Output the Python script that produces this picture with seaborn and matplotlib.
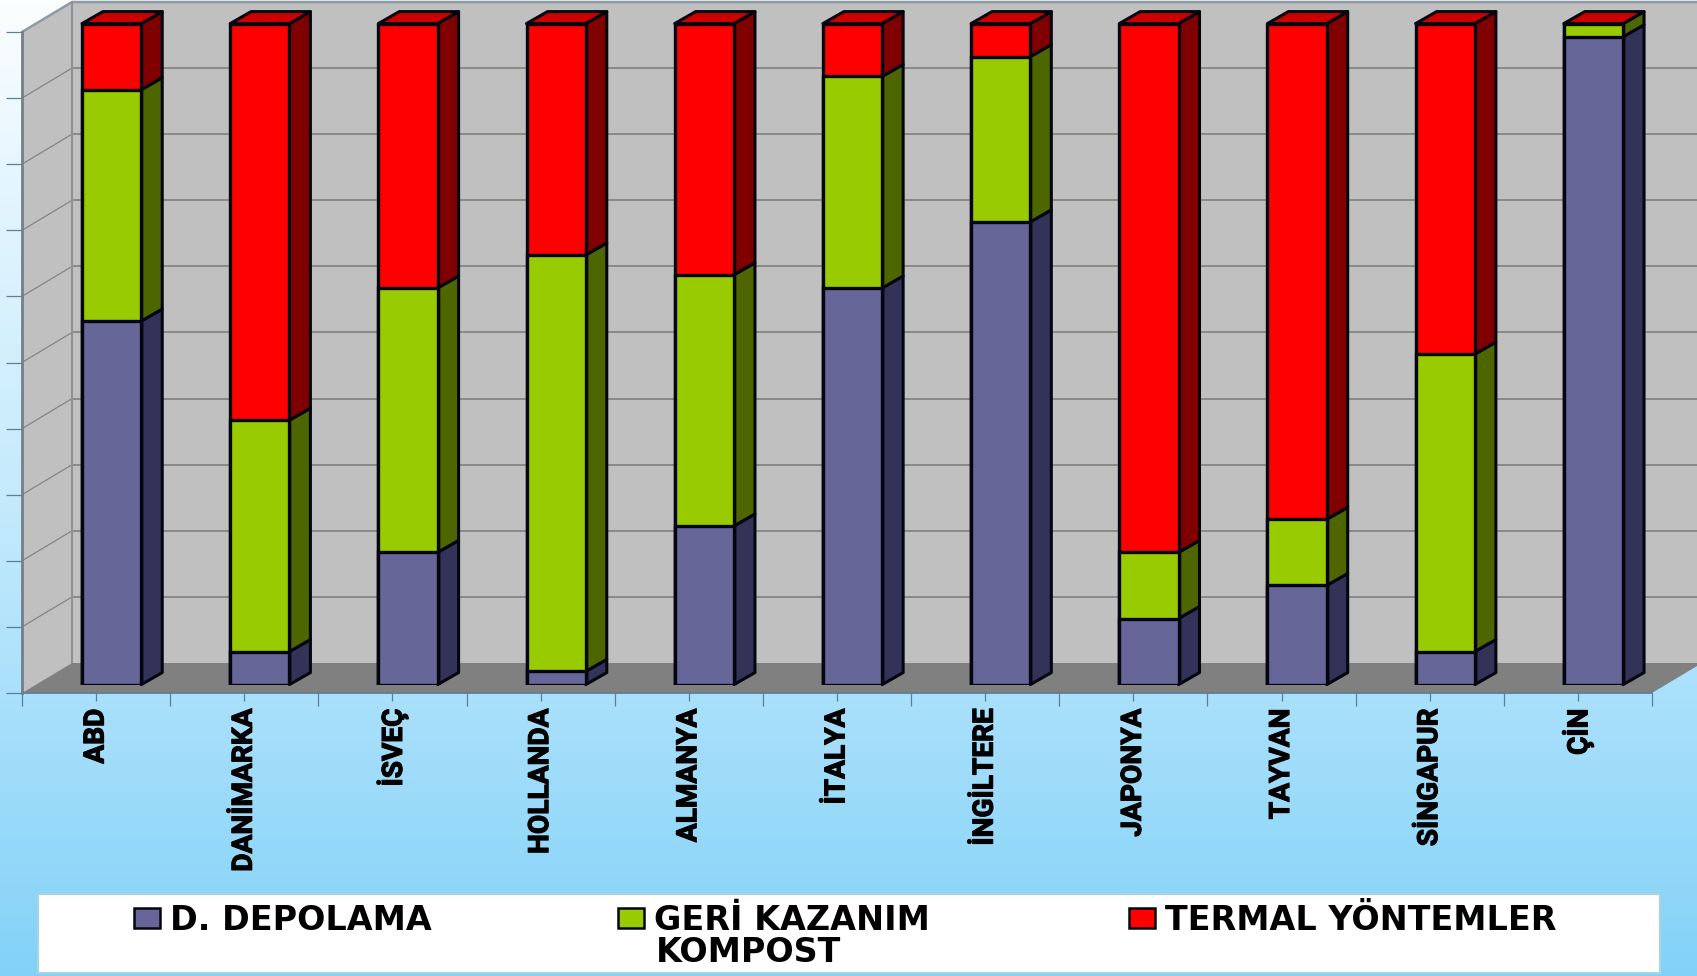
import numpy as np
import matplotlib
matplotlib.use("Agg")
import matplotlib.pyplot as plt
import matplotlib.patheffects as pe
from matplotlib.colors import LinearSegmentedColormap
from matplotlib.patches import Patch, Polygon, Rectangle
from matplotlib.ticker import FixedLocator, NullFormatter
import seaborn as sns

# Waste disposal shares per country, in percent
countries = ["ABD", "DANİMARKA", "İSVEÇ", "HOLLANDA", "ALMANYA", "İTALYA",
             "İNGİLTERE", "JAPONYA", "TAYVAN", "SİNGAPUR", "ÇİN"]
landfill = np.array([55, 5, 20, 2, 24, 60, 70, 10, 15, 5, 98], dtype=float)
recovery = np.array([35, 35, 40, 63, 38, 32, 25, 10, 10, 45, 2], dtype=float)
thermal = np.array([10, 60, 40, 35, 38, 8, 5, 80, 75, 50, 0], dtype=float)

series_names = ["D. DEPOLAMA", "GERİ KAZANIM ", "TERMAL YÖNTEMLER"]
extra_label = "KOMPOST"

front_colors = ["#666699", "#99CC00", "#FF0000"]
side_colors = ["#333359", "#4D6600", "#800000"]
top_color = "#CC0000"
edge_color = "#05050F"

W, H = 1697, 976
sns.set_theme(style="white")
plt.rcParams["font.family"] = ["Liberation Sans", "DejaVu Sans"]

fig = plt.figure(figsize=(W / 100, H / 100), dpi=100)

# Sky-coloured vertical gradient behind everything
bg = fig.add_axes([0, 0, 1, 1], zorder=0)
sky = LinearSegmentedColormap.from_list(
    "sky", [(0, "#FBFEFF"), (0.2, "#E3F5FE"), (0.5, "#C6EBFC"),
            (0.72, "#A9E0FB"), (1, "#82D2F8")])
bg.imshow(np.linspace(0, 1, 256)[:, None], cmap=sky, aspect="auto", extent=(0, 1, 0, 1))
bg.axis("off")

# Front plane of the value/category box
x0_px, x1_px, y0_px, y1_px = 22, 1652, 693, 32
pos = [x0_px / W, 1 - y0_px / H, (x1_px - x0_px) / W, (y0_px - y1_px) / H]
ax = fig.add_axes(pos, zorder=1)
ax.patch.set_visible(False)
ax.set_xlim(-0.5, 10.5)
ax.set_ylim(0, 100)
px_x = (x1_px - x0_px) / 11
px_y = (y0_px - y1_px) / 100

# Walls and floor, pushed back along the oblique depth direction
wall_dx, wall_dy = 50 / px_x, 30 / px_y
xl, xr = -0.5, 10.5
grid_col = "#858585"
ax.add_patch(Polygon([(xl, 0), (xl, 100), (xl + wall_dx, 100 + wall_dy), (xl + wall_dx, wall_dy)],
                     fc="#C0C0C0", ec="none", clip_on=False, zorder=1))
ax.add_patch(Polygon([(xl + wall_dx, wall_dy), (xl + wall_dx, 100 + wall_dy),
                      (xr + wall_dx, 100 + wall_dy), (xr + wall_dx, wall_dy)],
                     fc="#C0C0C0", ec="none", clip_on=False, zorder=1))
ax.add_patch(Polygon([(xl, 0), (xr, 0), (xr + wall_dx, wall_dy), (xl + wall_dx, wall_dy)],
                     fc="#808080", ec="none", clip_on=False, zorder=1.5))
for v in range(10, 100, 10):
    ax.plot([xl + wall_dx, xr + wall_dx], [v + wall_dy] * 2, color=grid_col, lw=1.3, clip_on=False, zorder=1.2)
    ax.plot([xl, xl + wall_dx], [v, v + wall_dy], color=grid_col, lw=0.9, clip_on=False, zorder=1.2)
ax.plot([xl, xl + wall_dx, xr + wall_dx], [100, 100 + wall_dy, 100 + wall_dy],
        color="#8E9AA3", lw=1.8, clip_on=False, zorder=1.3)
ax.plot([xl + wall_dx] * 2, [wall_dy, 100 + wall_dy], color="#8E9295", lw=1.5, clip_on=False, zorder=1.3)

# Axis furniture: long ticks between categories, short ticks at their centres
sns.despine(ax=ax, top=True, right=True)
for side, c, w in (("left", "#737F88", 2.0), ("bottom", "#5C7F95", 1.3)):
    ax.spines[side].set_color(c)
    ax.spines[side].set_linewidth(w)
    ax.spines[side].set_zorder(3)
ax.yaxis.set_major_locator(FixedLocator(range(0, 101, 10)))
ax.yaxis.set_major_formatter(NullFormatter())
ax.tick_params(axis="y", length=11.5, width=0.9, color="#5C7F95", left=True)
ax.set_xticks(range(11), countries)
ax.set_xticks(np.arange(-0.5, 11, 1), minor=True)
ax.tick_params(axis="x", which="major", length=5.8, width=0.9, color="#5C7F95", bottom=True,
               pad=5.6, labelrotation=90, labelsize=20.2, labelcolor="black")
ax.tick_params(axis="x", which="minor", length=9.4, width=0.9, color="#5C7F95", bottom=True)
for lab in ax.get_xticklabels():
    lab.set_family(["Roboto", "Liberation Sans", "DejaVu Sans"])
    lab.set_fontweight("bold")
    lab.set_va("top")
    lab.set_ha("center")
    # A thin outline gives the narrow caps their heavier weight
    lab.set_path_effects([pe.withStroke(linewidth=0.8, foreground="black")])

# Bars live in a twin plane nudged towards the back of the box
off_x, off_y = 15.5, 8.4
ax_bars = fig.add_axes([(x0_px + off_x) / W, 1 - (y0_px - off_y) / H, pos[2], pos[3]], zorder=2)
ax_bars.patch.set_visible(False)
bar_width = 0.4
depth_dx, depth_dy = 21 / px_x, 12 / px_y

segments = [landfill, recovery, thermal]
tops = np.cumsum(segments, axis=0)
bottoms = tops - np.array(segments)

# Tallest cumulative level first so each lower layer paints over it
for level in (2, 1, 0):
    sns.barplot(x=countries, y=tops[level], color=front_colors[level], saturation=1,
                width=bar_width, edgecolor=edge_color, linewidth=2.4, ax=ax_bars,
                errorbar=None, zorder=3)

# Oblique side and top faces of every stacked segment
for i in range(len(countries)):
    right = i + bar_width / 2
    left = i - bar_width / 2
    for level in range(3):
        lo, hi = bottoms[level, i], tops[level, i]
        if hi <= lo:
            continue
        ax_bars.add_patch(Polygon([(right, lo), (right, hi), (right + depth_dx, hi + depth_dy),
                                   (right + depth_dx, lo + depth_dy)],
                                  fc=side_colors[level], ec=edge_color, lw=2.2,
                                  joinstyle="round", clip_on=False, zorder=2))
    h = tops[2, i]
    ax_bars.add_patch(Polygon([(left, h), (right, h), (right + depth_dx, h + depth_dy),
                               (left + depth_dx, h + depth_dy)],
                              fc=top_color, ec=edge_color, lw=2.2,
                              joinstyle="round", clip_on=False, zorder=2))
ax_bars.set_xlim(-0.5, 10.5)
ax_bars.set_ylim(0, 100)
ax_bars.axis("off")

# White legend panel along the bottom of the figure
fig.add_artist(Rectangle((38 / W, 1 - 973 / H), (1660 - 38) / W, (973 - 894) / H,
                         transform=fig.transFigure, fc="white", ec="#A6D4E6", lw=1.5, zorder=4))
handles = [Patch(fc=c, ec=edge_color, lw=1.8) for c in front_colors]
legend = fig.legend(handles, series_names, ncol=3, loc="upper left",
                    bbox_to_anchor=(134 / W, 1 - 904 / H), frameon=False,
                    prop={"family": "DejaVu Sans", "weight": "bold", "size": 24},
                    labelcolor="black", handlelength=0.78, handleheight=0.55,
                    handletextpad=0.3, columnspacing=5.6, borderpad=0, borderaxespad=0)
legend.set_zorder(5)
fig.text(656 / W, 1 - 953 / H, extra_label, fontsize=24, fontweight="bold", color="black",
         family="DejaVu Sans", va="center", ha="left", zorder=5)

fig.savefig("out.png", dpi=100)
